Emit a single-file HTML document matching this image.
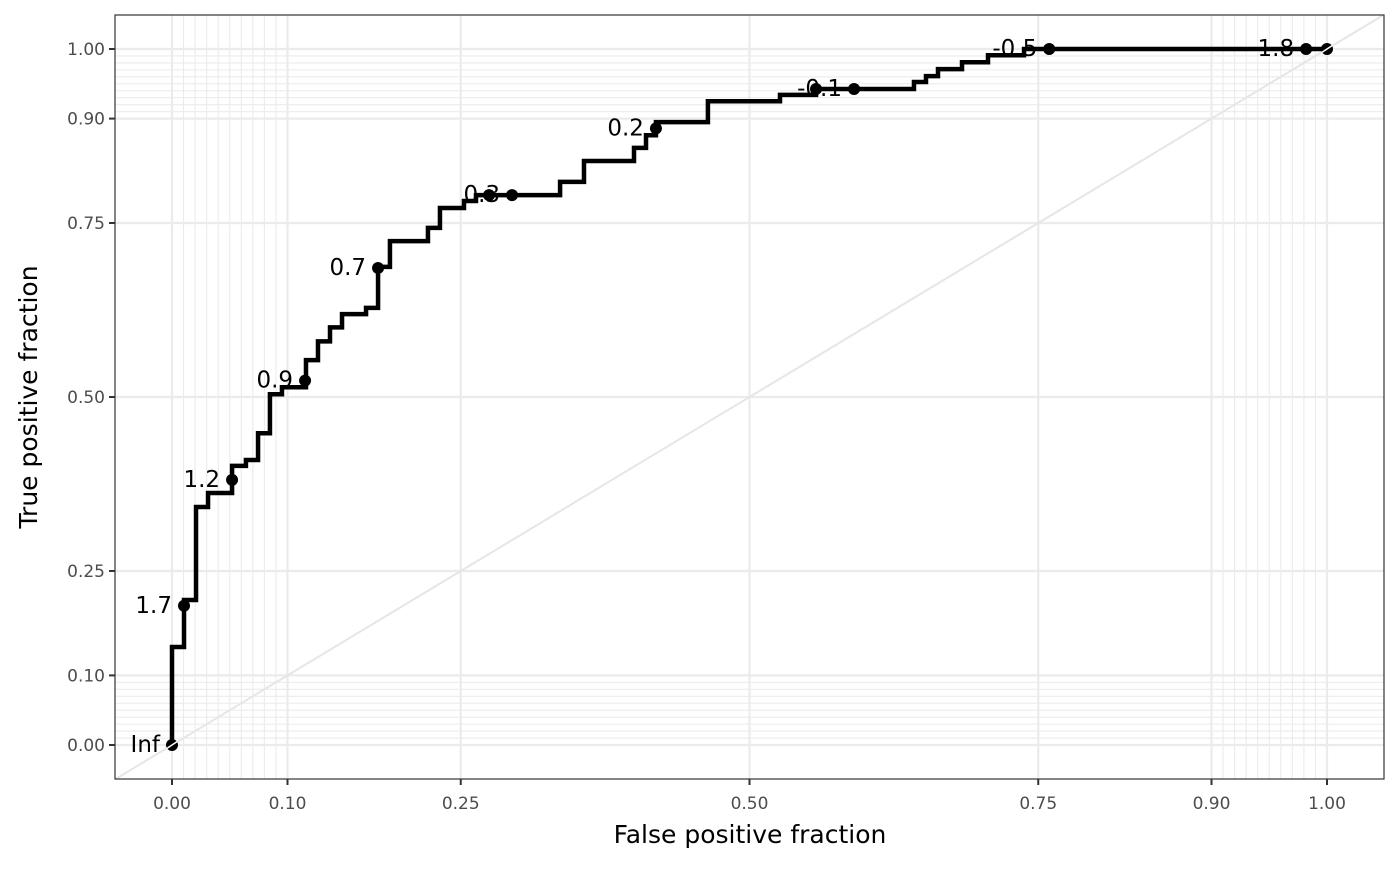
<!DOCTYPE html>
<html><head><meta charset="utf-8"><style>
body{margin:0;background:#fff;font-family:"DejaVu Sans","Liberation Sans",sans-serif}
</style></head><body>
<svg id="chart" width="1400" height="865" xmlns="http://www.w3.org/2000/svg"></svg>
<script>
const stepFpf = [0,0,.0104,.0104,.0208,.0208,.0312,.0312,.052,.052,.064,.064,.0745,.0745,.0848,.0848,.0952,.0952,.116,.116,.1264,.1264,.1368,.1368,.1472,.1472,.168,.168,.1784,.1784,.1887,.1887,.2216,.2216,.232,.232,.2528,.2528,.2632,.2632,.336,.336,.3567,.3567,.4,.4,.4104,.4104,.419,.419,.464,.464,.5264,.5264,.5576,.5576,.6424,.6424,.6528,.6528,.6632,.6632,.684,.684,.7065,.7065,.7377,.7377,1];
const stepTpf = [0,.1408,.1408,.2083,.2083,.342,.342,.362,.362,.401,.401,.4095,.4095,.448,.448,.504,.504,.514,.514,.553,.553,.580,.580,.600,.600,.619,.619,.628,.628,.687,.687,.724,.724,.743,.743,.7716,.7716,.7816,.7816,.790,.790,.809,.809,.839,.839,.858,.858,.876,.876,.895,.895,.925,.925,.934,.934,.9425,.9425,.9526,.9526,.961,.961,.971,.971,.981,.981,.991,.991,1,1];
const cutFpf = [0,.0104,.052,.1152,.1784,.2745,.2944,.419,.5576,.5905,.7595,.9819,1];
const cutTpf = [0,.2,.381,.5235,.6853,.790,.790,.886,.9425,.9425,1,1,1];
const cutLabels = ["Inf","1.7","1.2","0.9","0.7","","0.3","0.2","","-0.1","-0.5","-1.8",""];
const tickVals = [0,.1,.25,.5,.75,.9,1];
const tickLabels = ["0.00","0.10","0.25","0.50","0.75","0.90","1.00"];
const minorVals = [.01,.02,.03,.04,.05,.06,.07,.08,.09,.91,.92,.93,.94,.95,.96,.97,.98,.99];

const svg=document.getElementById('chart');
const NS='http://www.w3.org/2000/svg';
const L=115,R=1384,T=15,B=779;
const sx=v=>172+v*1155, sy=v=>745-v*696;
function mk(tag,attrs,parent){const e=document.createElementNS(NS,tag);for(const k in attrs)e.setAttribute(k,attrs[k]);(parent||svg).appendChild(e);return e;}
const bg=mk('rect',{x:L,y:T,width:R-L,height:B-T,fill:'#fff'});


const grid=mk('g',{});


minorVals.forEach(v=>{
  mk('line',{x1:sx(v),x2:sx(v),y1:T,y2:B,stroke:'#ebebeb','stroke-width':1.1},grid);
  mk('line',{x1:L,x2:R,y1:sy(v),y2:sy(v),stroke:'#ebebeb','stroke-width':1.1},grid);
});
tickVals.forEach(v=>{
  mk('line',{x1:sx(v),x2:sx(v),y1:T,y2:B,stroke:'#ebebeb','stroke-width':2.2},grid);
  mk('line',{x1:L,x2:R,y1:sy(v),y2:sy(v),stroke:'#ebebeb','stroke-width':2.2},grid);
});
const clip=mk('clipPath',{id:'pc'});mk('rect',{x:L,y:T,width:R-L,height:B-T},clip);
const diag=mk('line',{x1:sx(-0.05),y1:sy(-0.05),x2:sx(1.05),y2:sy(1.05),stroke:'#e6e6e6','stroke-width':2,'clip-path':'url(#pc)'});


let d='';stepFpf.forEach((v,i)=>{d+=(i?'L':'M')+sx(v)+','+sy(stepTpf[i]);});
const roc=mk('path',{d:d,fill:'none',stroke:'#000','stroke-width':4.5,'stroke-linejoin':'miter'});


const pts=mk('g',{'clip-path':'url(#pc)'});


cutFpf.forEach((v,i)=>{
  const c=mk('circle',{cx:sx(v),cy:sy(cutTpf[i]),r:6,fill:'#000'},pts);
  
  
  if(cutLabels[i]){
    const t=mk('text',{x:sx(v)-12,y:sy(cutTpf[i])+7,'text-anchor':'end','font-size':23,fill:'#000'},svg);
    t.textContent=cutLabels[i];
    
    
  }
});
mk('line',{x1:sx(0)-6,y1:sy(0)+4,x2:sx(0)+6,y2:sy(0)-4,stroke:'#fff','stroke-width':1.5},pts);
mk('line',{x1:sx(1)-6,y1:sy(1)+4,x2:sx(1)+6,y2:sy(1)-4,stroke:'#fff','stroke-width':1.5},pts);
const border=mk('rect',{x:L,y:T,width:R-L,height:B-T,fill:'none',stroke:'#333','stroke-width':1.2});


const xa=mk('g',{});
const ya=mk('g',{});
tickVals.forEach((v,i)=>{
  mk('line',{x1:sx(v),x2:sx(v),y1:B,y2:B+6,stroke:'#333','stroke-width':2},xa);
  const tx=mk('text',{x:sx(v),y:B+30,'text-anchor':'middle','font-size':17,fill:'#4d4d4d'},xa);tx.textContent=tickLabels[i];
  
  mk('line',{x1:L-6,x2:L,y1:sy(v),y2:sy(v),stroke:'#333','stroke-width':2},ya);
  const ty=mk('text',{x:L-10,y:sy(v)+6,'text-anchor':'end','font-size':17,fill:'#4d4d4d'},ya);ty.textContent=tickLabels[i];
  
});
const xt=mk('text',{x:750,y:843,'text-anchor':'middle','font-size':25,fill:'#000'});xt.textContent='False positive fraction';

const yt=mk('text',{x:0,y:0,transform:'translate(37,397) rotate(-90)','text-anchor':'middle','font-size':25,fill:'#000'});yt.textContent='True positive fraction';

</script>
</body></html>
